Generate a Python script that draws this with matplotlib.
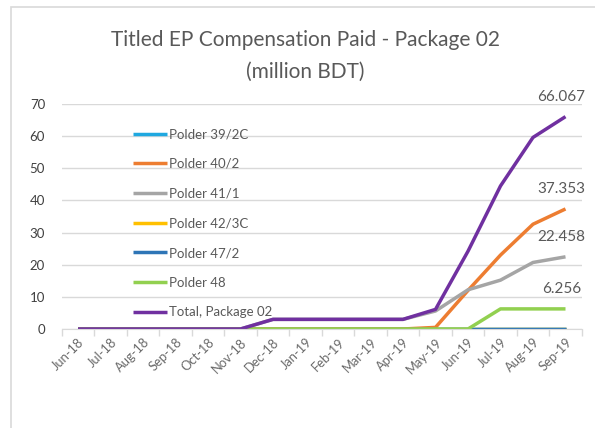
import matplotlib as mpl
import numpy as np
from matplotlib import pyplot as plt
from matplotlib.patches import Rectangle

months = ['Jun-18', 'Jul-18', 'Aug-18', 'Sep-18', 'Oct-18', 'Nov-18', 'Dec-18', 'Jan-19',
          'Feb-19', 'Mar-19', 'Apr-19', 'May-19', 'Jun-19', 'Jul-19', 'Aug-19', 'Sep-19']

polder_39_2c = [0, 0, 0, 0, 0, 0, 0, 0, 0, 0, 0, 0, 0, 0, 0, 0]
polder_40_2 = [0, 0, 0, 0, 0, 0, 0, 0, 0, 0, 0, 0.5, 12.0, 23.0, 32.6, 37.353]
polder_41_1 = [0, 0, 0, 0, 0, 0, 3.0, 3.0, 3.0, 3.0, 3.0, 5.6, 12.2, 15.2, 20.7, 22.458]
polder_42_3c = [0, 0, 0, 0, 0, 0, 0, 0, 0, 0, 0, 0, 0, 0, 0, 0]
polder_47_2 = [0, 0, 0, 0, 0, 0, 0, 0, 0, 0, 0, 0, 0, 0, 0, 0]
polder_48 = [0, 0, 0, 0, 0, 0, 0, 0, 0, 0, 0, 0, 0, 6.256, 6.256, 6.256]
total_pkg02 = [0, 0, 0, 0, 0, 0, 3.0, 3.0, 3.0, 3.0, 3.0, 6.1, 24.2, 44.5, 59.6, 66.067]
end_labels = ['', '37.353', '22.458', '', '', '6.256', '66.067']

series = [
    ('Polder 39/2C', polder_39_2c, '#1FA8E0'),
    ('Polder 40/2', polder_40_2, '#ED7D31'),
    ('Polder 41/1', polder_41_1, '#A5A5A5'),
    ('Polder 42/3C', polder_42_3c, '#FFC000'),
    ('Polder 47/2', polder_47_2, '#2E75B6'),
    ('Polder 48', polder_48, '#92D050'),
    ('Total, Package 02', total_pkg02, '#7030A0'),
]

txt = '#595959'
plt.rcParams['font.family'] = ['Lato', 'DejaVu Sans']

fig = plt.figure(figsize=(5.95, 4.28), dpi=100)
fig.patches.append(Rectangle((11 / 595, -0.1), 1.2, 1 - 7 / 428 + 0.1, transform=fig.transFigure,
                             fill=False, edgecolor='#d9d9d9', linewidth=1.2))
ax = fig.add_axes([61.75 / 595, 1 - 329 / 428, 520 / 595, 225 / 428])

x = np.arange(len(months))
for (name, vals, col), lab in zip(series, end_labels):
    ax.plot(x, vals, color=col, linewidth=2.5, label=name, solid_capstyle='butt')
    if lab:
        ax.annotate(lab, (x[-1], vals[-1]), xytext=(-3, 9), textcoords='offset points',
                    ha='center', va='bottom', fontsize=11, color=txt)

ax.set_xlim(-0.5, len(months) - 0.5)
ax.set_ylim(0, 70)
ax.set_yticks(np.arange(0, 71, 10))
ax.set_xticks(x)
ax.set_xticklabels(months, rotation=45, ha='right', va='top', rotation_mode='anchor')
ax.set_xticks(np.arange(-0.5, len(months), 1), minor=True)
ax.tick_params(axis='x', which='major', length=0, pad=5, labelsize=9.3, labelcolor='#6a6a6a')
ax.tick_params(axis='x', which='minor', length=5, color='#d9d9d9', width=1)
ax.tick_params(axis='y', length=0, pad=12, labelsize=9.5, labelcolor='#404040')
ax.grid(axis='y', color='#d9d9d9', linewidth=1)
ax.set_axisbelow(True)
for s in ['left', 'right', 'top']:
    ax.spines[s].set_visible(False)
ax.spines['bottom'].set_color('#d9d9d9')

leg = ax.legend(loc='upper left', bbox_to_anchor=(0.137, 0.892), frameon=False, fontsize=9.5,
                borderpad=0, borderaxespad=0, handlelength=2.6, handletextpad=0.1,
                labelspacing=1.34, labelcolor=txt)

fig.text(0.513, 1 - 40 / 428, 'Titled EP Compensation Paid - Package 02', ha='center', va='center',
         fontsize=15, color=txt)
fig.text(0.513, 1 - 72 / 428, '(million BDT)', ha='center', va='center', fontsize=15, color=txt)

fig.savefig('out.png', dpi=100)
